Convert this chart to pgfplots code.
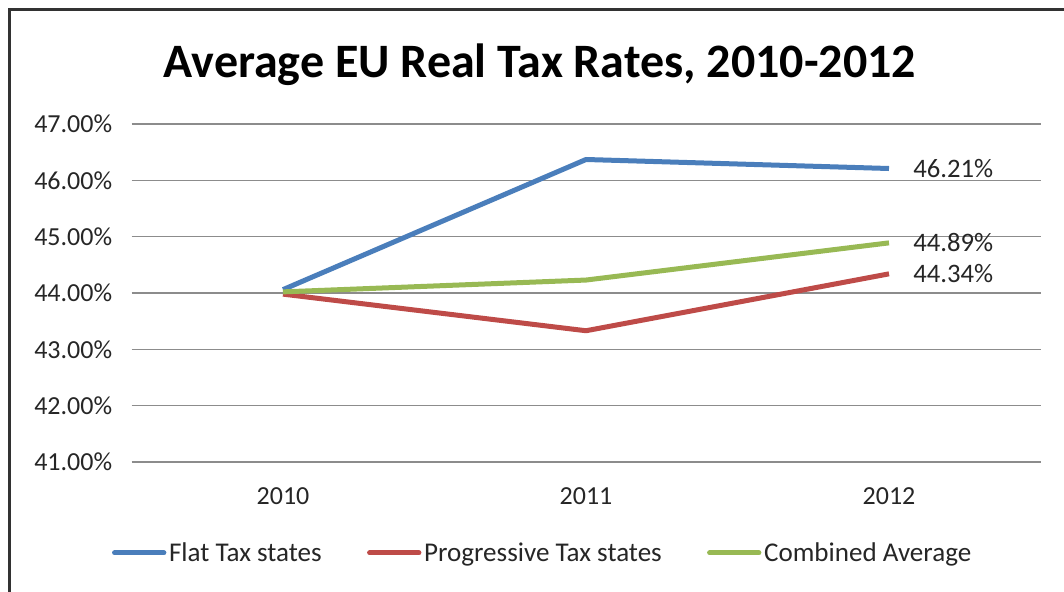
\documentclass[border=0pt]{standalone}
\usepackage{pgfplots}
\pgfplotsset{compat=1.18}
\usepackage{fontspec}
\setmainfont{Carlito}
\definecolor{flatblue}{RGB}{74,126,187}
\definecolor{progred}{RGB}{190,75,72}
\definecolor{combgreen}{RGB}{152,185,84}
\definecolor{gridgray}{RGB}{140,140,140}
\definecolor{framegray}{RGB}{50,50,50}
\definecolor{txt}{RGB}{38,38,38}

\begin{document}
\begin{tikzpicture}
  % picture is 1064 x 592 px at 0.75pt per px
  \useasboundingbox (0pt,0pt) rectangle (798pt,444pt);
  \draw[framegray, line width=2.25pt] (7.125pt,-4pt) -- (7.125pt,436.875pt) -- (806pt,436.875pt);
  \node[anchor=base, font=\bfseries\fontsize{36}{40}\selectfont] at (405pt,385.5pt)
    {Average EU Real Tax Rates, 2010-2012};

  \begin{axis}[
    at={(98.625pt,97.5pt)}, anchor=south west,
    scale only axis, width=681.75pt, height=253.5pt,
    xmin=-0.5, xmax=2.5, ymin=41, ymax=47,
    xtick={0,1,2}, xticklabels={2010,2011,2012},
    ytick={41,42,...,47},
    yticklabel={\pgfmathprintnumber[fixed,fixed zerofill,precision=2]{\tick}\%},
    /pgf/number format/assume math mode=true,
    ymajorgrids, grid style={gridgray, line width=1pt},
    axis line style={draw=none},
    major tick length=0pt,
    tick label style={font=\fontsize{19.5}{21}\selectfont, text=txt},
    yticklabel style={xshift=-11pt},
    xticklabel style={yshift=-16pt},
    legend columns=3,
    legend style={draw=none, fill=none, at={(0.4527,-0.269)}, anchor=center,
      font=\fontsize{20.3}{22}\selectfont, text=txt,
      /tikz/every even column/.append style={column sep=32pt},
      nodes={inner sep=2pt}},
    legend image code/.code={\draw[#1, line cap=round] (0pt,0pt) -- (37pt,0pt);},
    every axis plot/.append style={line width=3.75pt, line join=round},
  ]
    \addplot[flatblue] coordinates {(0,44.06) (1,46.37) (2,46.21)};
    \addplot[progred] coordinates {(0,43.98) (1,43.33) (2,44.34)};
    \addplot[combgreen] coordinates {(0,44.02) (1,44.23) (2,44.89)};
    \legend{Flat Tax states, Progressive Tax states, Combined Average}

    \begin{scope}[every node/.style={anchor=west, inner sep=0pt, xshift=18pt,
        font=\fontsize{20}{22}\selectfont, text=txt}]
      \node at (axis cs:2,46.21) {46.21\%};
      \node at (axis cs:2,44.89) {44.89\%};
      \node at (axis cs:2,44.34) {44.34\%};
    \end{scope}
  \end{axis}
\end{tikzpicture}
\end{document}
